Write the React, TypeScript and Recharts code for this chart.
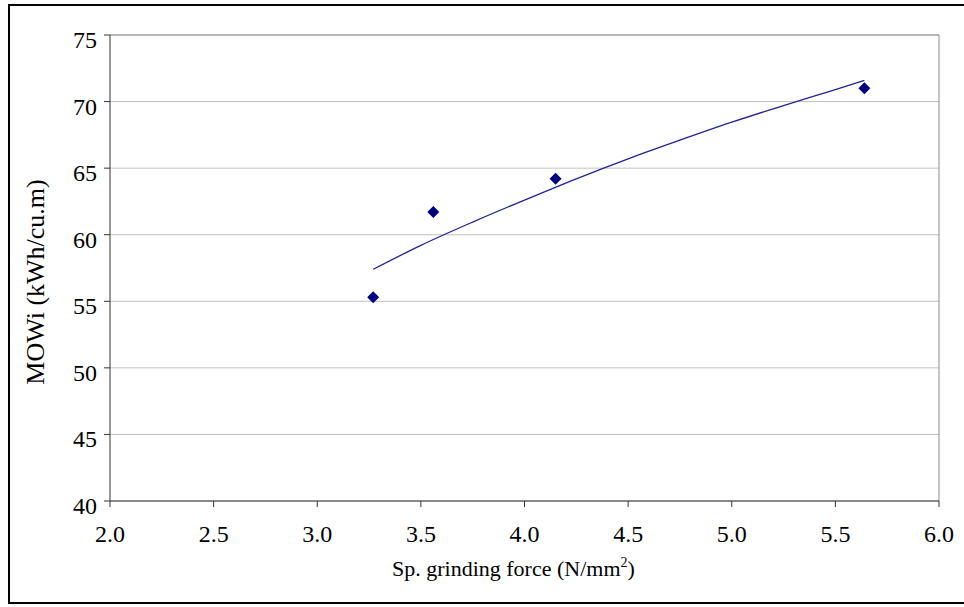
import React from "react";
import {
  ComposedChart,
  XAxis,
  YAxis,
  CartesianGrid,
  Scatter,
  Line,
  ReferenceLine,
  Label,
} from "recharts";

// Measured points
const forceValues = [3.27, 3.56, 4.15, 5.64];
const mowiValues = [55.3, 61.7, 64.2, 71.0];

// Trend line values
const trendForce = [3.27, 3.5, 3.75, 4.0, 4.25, 4.5, 4.75, 5.0, 5.25, 5.5, 5.64];
const trendMowi = [57.4, 59.2, 60.95, 62.6, 64.2, 65.7, 67.1, 68.45, 69.7, 70.9, 71.6];

const xTicks = [2.0, 2.5, 3.0, 3.5, 4.0, 4.5, 5.0, 5.5, 6.0];
const yTicks = [40, 45, 50, 55, 60, 65, 70, 75];

const points = forceValues.map((x, i) => ({ x, y: mowiValues[i] }));
const trend = trendForce.map((x, i) => ({ x, t: trendMowi[i] }));

const FONT = "Liberation Serif, Times New Roman, serif";
const tickStyle = { fontFamily: FONT, fontSize: 24 };

const renderXTick = (props: any) => {
  const { x, y, payload } = props;
  return (
    <text key={`xt-${payload.value}`} x={x} y={y + 35} textAnchor="middle" fill="#000" stroke="none" style={tickStyle}>
      {Number(payload.value).toFixed(1)}
    </text>
  );
};

const renderYTick = (props: any) => {
  const { x, y, payload } = props;
  return (
    <text key={`yt-${payload.value}`} x={x} y={y + 13} textAnchor="end" fill="#000" stroke="none" style={tickStyle}>
      {payload.value}
    </text>
  );
};

const Diamond = (props: any) => {
  const { cx, cy } = props;
  const r = 6;
  return (
    <polygon
      points={`${cx},${cy - r} ${cx + r},${cy} ${cx},${cy + r} ${cx - r},${cy}`}
      fill="#000080"
      stroke="none"
    />
  );
};

export default function App() {
  return (
    <div style={{ position: "absolute", left: 0, top: 0, width: 964, height: 607, background: "#fff" }}>
      <ComposedChart width={964} height={607} margin={{ top: 35, right: 25, bottom: 0, left: 0 }}>
        <CartesianGrid horizontal={true} vertical={false} stroke="#c0c0c0" strokeWidth={1} />
        <XAxis
          type="number"
          dataKey="x"
          domain={[2, 6]}
          ticks={xTicks}
          height={106}
          tickSize={6}
          tickMargin={0}
          stroke="#333"
          tickLine={{ stroke: "#333" }}
          tick={renderXTick}
          allowDataOverflow
        >
          <Label
            content={() => (
              <text x={392} y={576} textAnchor="start" fill="#000" style={{ fontFamily: FONT, fontSize: 22 }}>
                Sp. grinding force (N/mm
                <tspan fontSize={14} dy={-9}>2</tspan>
                <tspan dy={9}>)</tspan>
              </text>
            )}
          />
        </XAxis>
        <YAxis
          type="number"
          domain={[40, 75]}
          ticks={yTicks}
          width={110}
          tickSize={6}
          tickMargin={7}
          stroke="#333"
          tickLine={{ stroke: "#333" }}
          tick={renderYTick}
          allowDataOverflow
        >
          <Label
            content={() => (
              <text
                x={44}
                y={282}
                textAnchor="middle"
                fill="#000"
                style={{ fontFamily: FONT, fontSize: 26 }}
                transform="rotate(-90, 44, 282)"
              >
                MOWi (kWh/cu.m)
              </text>
            )}
          />
        </YAxis>
        <ReferenceLine y={75} stroke="#8c8c8c" strokeWidth={1} />
        <ReferenceLine x={6} stroke="#8c8c8c" strokeWidth={1} />
        <Line
          data={trend}
          dataKey="t"
          type="monotone"
          stroke="#22228f"
          strokeWidth={1.3}
          dot={false}
          activeDot={false}
          isAnimationActive={false}
        />
        <Scatter data={points} dataKey="y" shape={<Diamond />} isAnimationActive={false} />
      </ComposedChart>
      <svg
        width={964}
        height={607}
        style={{ position: "absolute", left: 0, top: 0, pointerEvents: "none", overflow: "hidden" }}
      >
        <rect x={9} y={5} width={965} height={598} fill="none" stroke="#000" strokeWidth={2} />
      </svg>
    </div>
  );
}
